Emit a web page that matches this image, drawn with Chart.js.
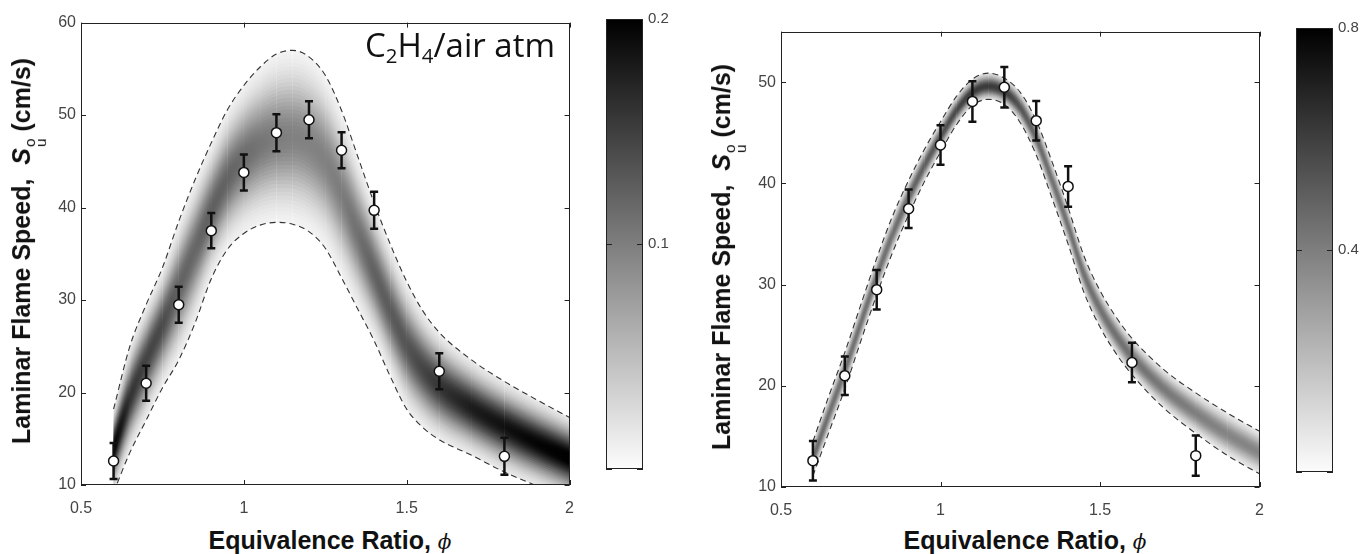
<!DOCTYPE html>
<html lang="en">

<head>
    <meta charset="UTF-8" />
    <title>Laminar Flame Speed - C2H4/air</title>
    <style>
        body {
            margin: 0;
            width: 1367px;
            height: 554px;
            overflow: hidden;
            background: #fff;
            position: relative;
            font-family: "Liberation Sans", Arial, sans-serif;
        }

        canvas {
            position: absolute;
            display: block;
        }

        .title {
            position: absolute;
            font-weight: bold;
            font-size: 25px;
            color: #111;
            white-space: nowrap;
            transform: translate(-50%, -50%);
        }

        .title.rot {
            transform: translate(-50%, -50%) rotate(-90deg);
        }

        .phi {
            font-style: italic;
            font-weight: normal;
            font-family: "DejaVu Serif", serif;
            font-size: 0.8em;
        }

        .ou {
            display: inline-flex;
            flex-direction: column;
            font-size: 0.62em;
            line-height: 0.75;
            vertical-align: -0.3em;
            font-weight: normal;
            margin-left: 1px;
        }

        #note {
            position: absolute;
            left: 365px;
            top: 28px;
            font-family: "Open Sans", sans-serif;
            font-size: 33px;
            line-height: 33px;
            color: #111;
            white-space: nowrap;
        }

        #note sub {
            font-size: 0.62em;
            vertical-align: -0.28em;
            line-height: 0;
        }
    </style>
</head>

<body>
    <canvas id="leftChart" width="547" height="513" style="left:41px;top:8px"></canvas>
    <canvas id="leftBar" width="77" height="478" style="left:606px;top:5px"></canvas>
    <canvas id="rightChart" width="537" height="506" style="left:741px;top:17px"></canvas>
    <canvas id="rightBar" width="71" height="472" style="left:1296px;top:14px"></canvas>

    <div class="title rot" style="left:27px;top:251px">Laminar Flame Speed,&nbsp; <i>S</i><span class="ou"><span>o</span><span>u</span></span> (cm/s)</div>
    <div class="title" style="left:330px;top:540px">Equivalence Ratio, <span class="phi">&#981;</span></div>
    <div class="title rot" style="left:727px;top:257px">Laminar Flame Speed,&nbsp; <i>S</i><span class="ou"><span>o</span><span>u</span></span> (cm/s)</div>
    <div class="title" style="left:1025px;top:540px">Equivalence Ratio, <span class="phi">&#981;</span></div>
    <div id="note">C<sub>2</sub>H<sub>4</sub>/air atm</div>

    <script src="https://cdn.jsdelivr.net/npm/chart.js"></script>

    <script>
        // ---- data ----
        const phi = [0.6, 0.65, 0.7, 0.75, 0.8, 0.85, 0.9, 0.95, 1.0, 1.05, 1.1, 1.15, 1.2,
            1.25, 1.3, 1.35, 1.4, 1.45, 1.5, 1.55, 1.6, 1.7, 1.8, 1.9, 2.0];

        // left: prior model band
        const leftCenter = [13.8, 19.3, 23.5, 27.3, 31.3, 35.5, 39.6, 43.1, 45.4, 46.8, 47.5, 47.6, 46.9,
            45.0, 41.5, 37.2, 33.0, 28.8, 25.1, 22.5, 20.7, 18.3, 16.3, 14.5, 12.9];
        const leftUpper = [18.2, 25.0, 29.5, 33.5, 38.5, 43.0, 47.0, 50.6, 53.2, 55.2, 56.6, 57.0, 56.3,
            54.3, 50.5, 45.5, 40.5, 36.0, 32.0, 28.8, 26.5, 23.5, 21.2, 19.2, 17.3];
        const leftLower = [9.2, 13.5, 17.0, 20.5, 23.5, 27.5, 32.3, 35.5, 37.2, 38.1, 38.4, 38.2, 37.4,
            35.6, 32.4, 29.0, 25.6, 21.7, 18.2, 16.2, 14.9, 13.2, 11.4, 9.9, 8.5];

        // right: posterior model band
        const rightCenter = [12.8, 17.2, 21.5, 26.2, 30.8, 35.0, 38.6, 41.8, 44.6, 47.2, 49.0, 49.6, 49.1,
            47.5, 44.5, 40.3, 35.8, 31.0, 27.6, 25.0, 22.9, 19.7, 17.3, 15.2, 13.4];
        const rightUpper = [14.5, 19.0, 23.3, 28.0, 32.6, 36.8, 40.3, 43.4, 46.1, 48.6, 50.3, 50.9, 50.4,
            49.0, 46.2, 42.1, 37.6, 32.8, 29.4, 26.8, 24.7, 21.6, 19.3, 17.3, 15.5];
        const rightLower = [11.1, 15.4, 19.7, 24.4, 29.0, 33.2, 36.9, 40.2, 43.1, 45.8, 47.7, 48.3, 47.8,
            46.0, 42.8, 38.5, 34.0, 29.2, 25.8, 23.2, 21.1, 17.8, 15.3, 13.1, 11.3];

        // measurements with error bars
        const expPhi = [0.6, 0.7, 0.8, 0.9, 1.0, 1.1, 1.2, 1.3, 1.4, 1.6, 1.8];
        const expSpeed = [12.6, 21.0, 29.5, 37.5, 43.8, 48.1, 49.5, 46.2, 39.7, 22.3, 13.1];
        const expErr = [1.95, 1.9, 1.95, 1.9, 1.95, 2.0, 2.0, 1.95, 2.0, 1.95, 2.0];

        // colour bar ranges
        const leftDensityMax = 0.2;
        const rightDensityMax = 0.8;

        const FONT = '"Liberation Sans", Arial, sans-serif';
        const N_LAYERS = 22;

        function grayFor(level) {
            const g = Math.round(252 * (1 - Math.min(1, Math.max(0, level))));
            return `rgb(${g},${g},${g})`;
        }

        // Shaded density: nested filled bands around the centre curve, each one
        // narrower and darker. Colour follows a gaussian whose half band = nSig sigma.
        function densityLayers(center, upper, lower, cmax, nSig) {
            const layers = [];
            for (let k = 0; k < N_LAYERS; k++) {
                const t = (N_LAYERS - k) / N_LAYERS;
                const tc = t - 0.5 / N_LAYERS;
                const colorAt = i => {
                    const sigma = (upper[i] - lower[i]) / 2 / nSig;
                    const p = Math.exp(-0.5 * (nSig * tc) ** 2) / (sigma * Math.sqrt(2 * Math.PI));
                    return grayFor(p / cmax);
                };
                const shade = c => {
                    const g = c.chart.ctx.createLinearGradient(c.p0.x, 0, c.p1.x, 0);
                    g.addColorStop(0, colorAt(c.p0DataIndex));
                    g.addColorStop(1, colorAt(c.p1DataIndex));
                    return g;
                };
                const common = {
                    borderWidth: 0,
                    borderColor: 'rgba(0,0,0,0)',
                    pointRadius: 0,
                    cubicInterpolationMode: 'monotone',
                    order: 10 + N_LAYERS - k
                };
                layers.push(Object.assign({
                    data: phi.map((x, i) => ({ x, y: center[i] + t * (upper[i] - center[i]) })),
                    fill: '+1',
                    backgroundColor: '#ccc',
                    // dash offset only keeps every segment separate so each gets its own gradient
                    segment: { backgroundColor: shade, borderDashOffset: c => c.p0DataIndex }
                }, common));
                layers.push(Object.assign({
                    data: phi.map((x, i) => ({ x, y: center[i] - t * (center[i] - lower[i]) })),
                    fill: false
                }, common));
            }
            return layers;
        }

        function boundLine(values) {
            return {
                data: phi.map((x, i) => ({ x, y: values[i] })),
                borderColor: '#333',
                borderWidth: 1.1,
                borderDash: [6, 4],
                pointRadius: 0,
                fill: false,
                cubicInterpolationMode: 'monotone',
                order: 2
            };
        }

        function pointsSet() {
            return {
                data: expPhi.map((x, i) => ({ x, y: expSpeed[i] })),
                errorBars: expErr,
                showLine: false,
                fill: false,
                pointRadius: 5,
                pointBackgroundColor: '#fff',
                pointBorderColor: '#111',
                pointBorderWidth: 1.5,
                order: 0
            };
        }

        const errorBarPlugin = {
            id: 'errorBars',
            beforeDatasetDraw(chart, args) {
                const ds = chart.data.datasets[args.index];
                if (!ds.errorBars) return;
                const { ctx, scales: { x, y } } = chart;
                ctx.save();
                ctx.strokeStyle = '#111';
                ctx.lineWidth = 2.5;
                ds.data.forEach((p, i) => {
                    const px = x.getPixelForValue(p.x);
                    const lo = y.getPixelForValue(p.y - ds.errorBars[i]);
                    const hi = y.getPixelForValue(p.y + ds.errorBars[i]);
                    ctx.beginPath();
                    ctx.moveTo(px, lo); ctx.lineTo(px, hi);
                    ctx.moveTo(px - 4, lo); ctx.lineTo(px + 4, lo);
                    ctx.moveTo(px - 4, hi); ctx.lineTo(px + 4, hi);
                    ctx.stroke();
                });
                ctx.restore();
            }
        };

        // matlab style box with inward ticks on all sides
        const boxPlugin = {
            id: 'matlabBox',
            afterDatasetsDraw(chart, args, opts) {
                const { ctx, chartArea: a } = chart;
                const len = opts.len || 5;
                ctx.save();
                ctx.strokeStyle = '#222';
                ctx.lineWidth = 1;
                ctx.strokeRect(Math.round(a.left) + 0.5, Math.round(a.top) + 0.5,
                    Math.round(a.right - a.left) - 1, Math.round(a.bottom - a.top) - 1);
                ctx.beginPath();
                if (opts.xTicks !== false) {
                    chart.scales.x.ticks.forEach(t => {
                        const px = Math.round(chart.scales.x.getPixelForValue(t.value)) + 0.5;
                        ctx.moveTo(px, a.bottom); ctx.lineTo(px, a.bottom - len);
                        ctx.moveTo(px, a.top); ctx.lineTo(px, a.top + len);
                    });
                }
                chart.scales.y.ticks.forEach(t => {
                    const py = Math.round(chart.scales.y.getPixelForValue(t.value)) + 0.5;
                    ctx.moveTo(a.left, py); ctx.lineTo(a.left + len, py);
                    ctx.moveTo(a.right, py); ctx.lineTo(a.right - len, py);
                });
                ctx.stroke();
                ctx.restore();
            }
        };

        function tickFont(size) {
            return { family: FONT, size: size };
        }

        function makePanel(id, center, upper, lower, cmax, nSig, yMax) {
            new Chart(document.getElementById(id), {
                type: 'line',
                data: {
                    datasets: [pointsSet(), boundLine(upper), boundLine(lower)]
                        .concat(densityLayers(center, upper, lower, cmax, nSig))
                },
                options: {
                    responsive: false,
                    animation: false,
                    layout: { padding: { top: 10, right: 10, left: 0, bottom: 0 } },
                    plugins: {
                        legend: { display: false },
                        tooltip: { enabled: false },
                        filler: { propagate: false },
                        matlabBox: { len: 5 }
                    },
                    scales: {
                        x: {
                            type: 'linear', min: 0.5, max: 2,
                            grid: { display: false, drawTicks: false },
                            border: { display: false },
                            ticks: {
                                stepSize: 0.5, padding: 14, color: '#444', font: tickFont(16),
                                maxRotation: 0, autoSkip: false, callback: v => String(v)
                            },
                            afterFit: s => { s.height = 36; }
                        },
                        y: {
                            min: 10, max: yMax,
                            grid: { display: false, drawTicks: false },
                            border: { display: false },
                            ticks: {
                                stepSize: 10, padding: 5, color: '#444', font: tickFont(16),
                                includeBounds: false, callback: v => String(v)
                            },
                            afterFit: s => { s.width = 40; }
                        }
                    }
                },
                plugins: [errorBarPlugin, boxPlugin]
            });
        }

        function makeColorBar(id, cmax, axisWidth) {
            new Chart(document.getElementById(id), {
                type: 'bar',
                data: {
                    labels: ['density'],
                    datasets: [{
                        data: [cmax],
                        borderWidth: 0,
                        barPercentage: 1,
                        categoryPercentage: 1,
                        backgroundColor: c => {
                            const a = c.chart.chartArea;
                            if (!a) return '#888';
                            const g = c.chart.ctx.createLinearGradient(0, a.bottom, 0, a.top);
                            g.addColorStop(0, grayFor(0));
                            g.addColorStop(1, grayFor(1));
                            return g;
                        }
                    }]
                },
                options: {
                    responsive: false,
                    animation: false,
                    layout: { padding: { top: 10, right: 0, left: 0, bottom: 0 } },
                    plugins: {
                        legend: { display: false },
                        tooltip: { enabled: false },
                        matlabBox: { len: 6, xTicks: false }
                    },
                    scales: {
                        x: { display: false },
                        y: {
                            position: 'right', min: 0, max: cmax,
                            grid: { display: false, drawTicks: false },
                            border: { display: false },
                            ticks: {
                                stepSize: cmax / 2, padding: 5, color: '#444', font: tickFont(15),
                                callback: v => (v === 0 ? '' : v.toFixed(1))
                            },
                            afterFit: s => { s.width = axisWidth; }
                        }
                    }
                },
                plugins: [boxPlugin]
            });
        }

        makePanel('leftChart', leftCenter, leftUpper, leftLower, leftDensityMax, 2.3, 60);
        makePanel('rightChart', rightCenter, rightUpper, rightLower, rightDensityMax, 2.0, 55);
        makeColorBar('leftBar', leftDensityMax, 40);
        makeColorBar('rightBar', rightDensityMax, 34);
    </script>
</body>

</html>
